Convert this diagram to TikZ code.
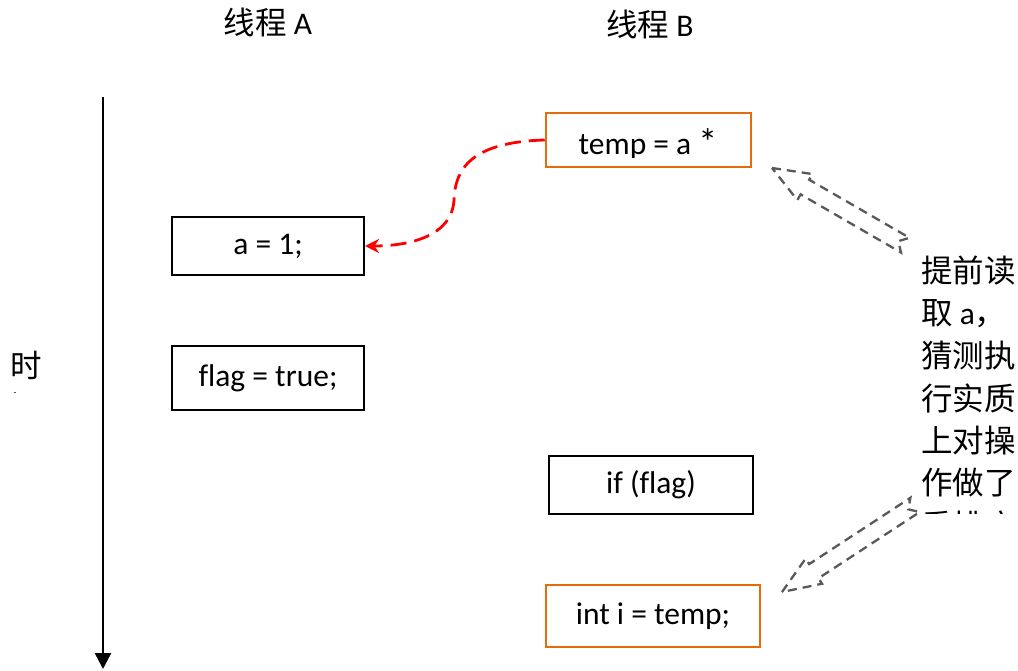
\documentclass[tikz,border=0pt]{standalone}
\usepackage{fontspec}
\setmainfont{Carlito}[Ligatures=NoCommon]
\newfontfamily\cjk{Noto Sans CJK SC}
\usetikzlibrary{arrows.meta}
\definecolor{orng}{RGB}{228,108,10}
\definecolor{dgray}{RGB}{89,89,89}
\begin{document}
\begin{tikzpicture}[x=1pt,y=-1pt,
  every node/.style={font=\fontsize{31.5}{38}\selectfont, inner sep=0pt},
  box/.style={draw=black, line width=2pt},
  obox/.style={draw=orng, line width=2.5pt},
  hollow/.style={draw=dgray, line width=2.3pt, dash pattern=on 9pt off 6pt, line join=miter},
  redcurve/.style={draw=red, line width=2.8pt, dash pattern=on 16pt off 8pt, -{Stealth[length=14pt,width=14pt]}}]
\useasboundingbox (0,0) rectangle (1018,671);
% headers
\node (hA) at (268,22) {{\cjk 线程} A};
\node (hB) at (650,24) {{\cjk 线程} B};
% time axis
\coordinate (t0) at (103,97);
\coordinate (t1) at (103,669);
\draw[line width=2.5pt, -{Triangle[length=16pt,width=16pt]}] (t0) -- (t1);
\begin{scope}
\clip (0,330) rectangle (80,392);
\node (shi) at (26,365) {\cjk 时};
\node (jian) at (26,407) {\cjk 间};
\end{scope}
% thread A boxes
\node[box, minimum width=192pt, minimum height=58pt] (a1) at (268,246) {a = 1;};
\node[box, minimum width=192pt, minimum height=64pt] (fl) at (268,378) {flag = true;};
% thread B boxes
\node[obox, minimum width=205pt, minimum height=54pt] (tmp) at (648.5,140) {};
\begin{scope}
\clip (550,116) rectangle (748,157.5);
\node[anchor=base] (tmptxt) at (648,155) {temp = a \raisebox{-1pt}{\scalebox{1.2}{*}}};
\end{scope}
\node[box, minimum width=204pt, minimum height=58pt] (iff) at (651,485) {if (flag)};
\node[obox, minimum width=214pt, minimum height=62pt] (inti) at (653,616) {int i = temp;};
% red dashed curve
\draw[redcurve] (tmp.west) .. controls (470,142) and (455,170) .. (454,200)
   .. controls (452,236) and (410,246) .. (a1.east);
% hollow arrows
\coordinate (p1) at (772,168);
\begin{scope}[shift={(p1)}, rotate=-30.07]
\draw[hollow] (0,0) -- (38,-15) -- (38,-8.5) -- (154,-8.5) -- (146,0) -- (154,8.5) -- (38,8.5) -- (38,15) -- cycle;
\end{scope}
\coordinate (p2) at (782,592);
\begin{scope}[shift={(p2)}, rotate=33.2]
\draw[hollow] (0,0) -- (38,-15) -- (38,-8.5) -- (159,-8.5) -- (151,0) -- (159,8.5) -- (38,8.5) -- (38,15) -- cycle;
\end{scope}
% right side text
\begin{scope}
\clip (900,240) rectangle (1018,513);
\node[anchor=west] (r1) at (921,271) {\cjk 提前读};
\node[anchor=west] (r2) at (921,314) {{\cjk 取} a{\cjk ，}};
\node[anchor=west] (r3) at (921,356) {\cjk 猜测执};
\node[anchor=west] (r4) at (921,398) {\cjk 行实质};
\node[anchor=west] (r5) at (921,441) {\cjk 上对操};
\node[anchor=west] (r6) at (921,483) {\cjk 作做了};
\node[anchor=west] (r7) at (921,525) {\cjk 重排序};
\end{scope}
\end{tikzpicture}
\end{document}
